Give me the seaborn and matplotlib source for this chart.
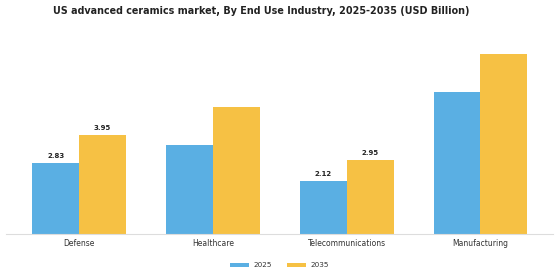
import pandas as pd
import matplotlib
matplotlib.use("Agg")
import matplotlib.pyplot as plt
import seaborn as sns

# datos
industries = ["Defense", "Healthcare", "Telecommunications", "Manufacturing"]
values_2025 = [2.83, 3.55, 2.12, 5.65]
values_2035 = [3.95, 5.05, 2.95, 7.17]
years = ["2025", "2035"]
shown_labels = ["Defense", "Telecommunications"]

df = pd.DataFrame({
    "industry": industries * 2,
    "year": [years[0]] * 4 + [years[1]] * 4,
    "value": values_2025 + values_2035,
})

sns.set_style("white")
plt.rcParams['font.family'] = ['DejaVu Sans']

fig = plt.figure(figsize=(5.6, 2.8), dpi=100)
ax = fig.add_axes([0.011, 0.163, 0.976, 0.673])

pal = {"2025": "#5aafe3", "2035": "#f6c144"}
sns.barplot(data=df, x="industry", y="value", hue="year", palette=pal,
            width=0.7, saturation=1, ax=ax, edgecolor="none")

# etiquetas solo para algunas barras
for cont in ax.containers:
    labs = []
    for bar, ind in zip(cont, industries):
        if ind in shown_labels:
            labs.append(f"{bar.get_height():.2f}")
        else:
            labs.append("")
    ax.bar_label(cont, labels=labs, padding=3, fontsize=5, fontweight="bold", color="#222222")

ax.set_xlim(-0.545, 3.54)
ax.set_ylim(0, 7.5)
ax.set_xlabel("")
ax.set_ylabel("")
ax.set_yticks([])
ax.tick_params(axis="x", labelsize=5.5, length=0, pad=3, colors="#333333")
for s in ["top", "right", "left"]:
    ax.spines[s].set_visible(False)
ax.spines["bottom"].set_color("#dddddd")
ax.spines["bottom"].set_linewidth(0.8)

ax.legend(loc="center", bbox_to_anchor=(0.5, -0.165), ncol=2, frameon=False,
          fontsize=5.2, handlelength=2.6, handleheight=0.6, handletextpad=0.6,
          columnspacing=2.2, labelcolor="#333333")

fig.suptitle("US advanced ceramics market, By End Use Industry, 2025-2035 (USD Billion)",
             fontsize=6.9, fontweight="bold", x=0.467, y=0.98, color="#222222")

fig.savefig("out.png", dpi=100, facecolor="white")
